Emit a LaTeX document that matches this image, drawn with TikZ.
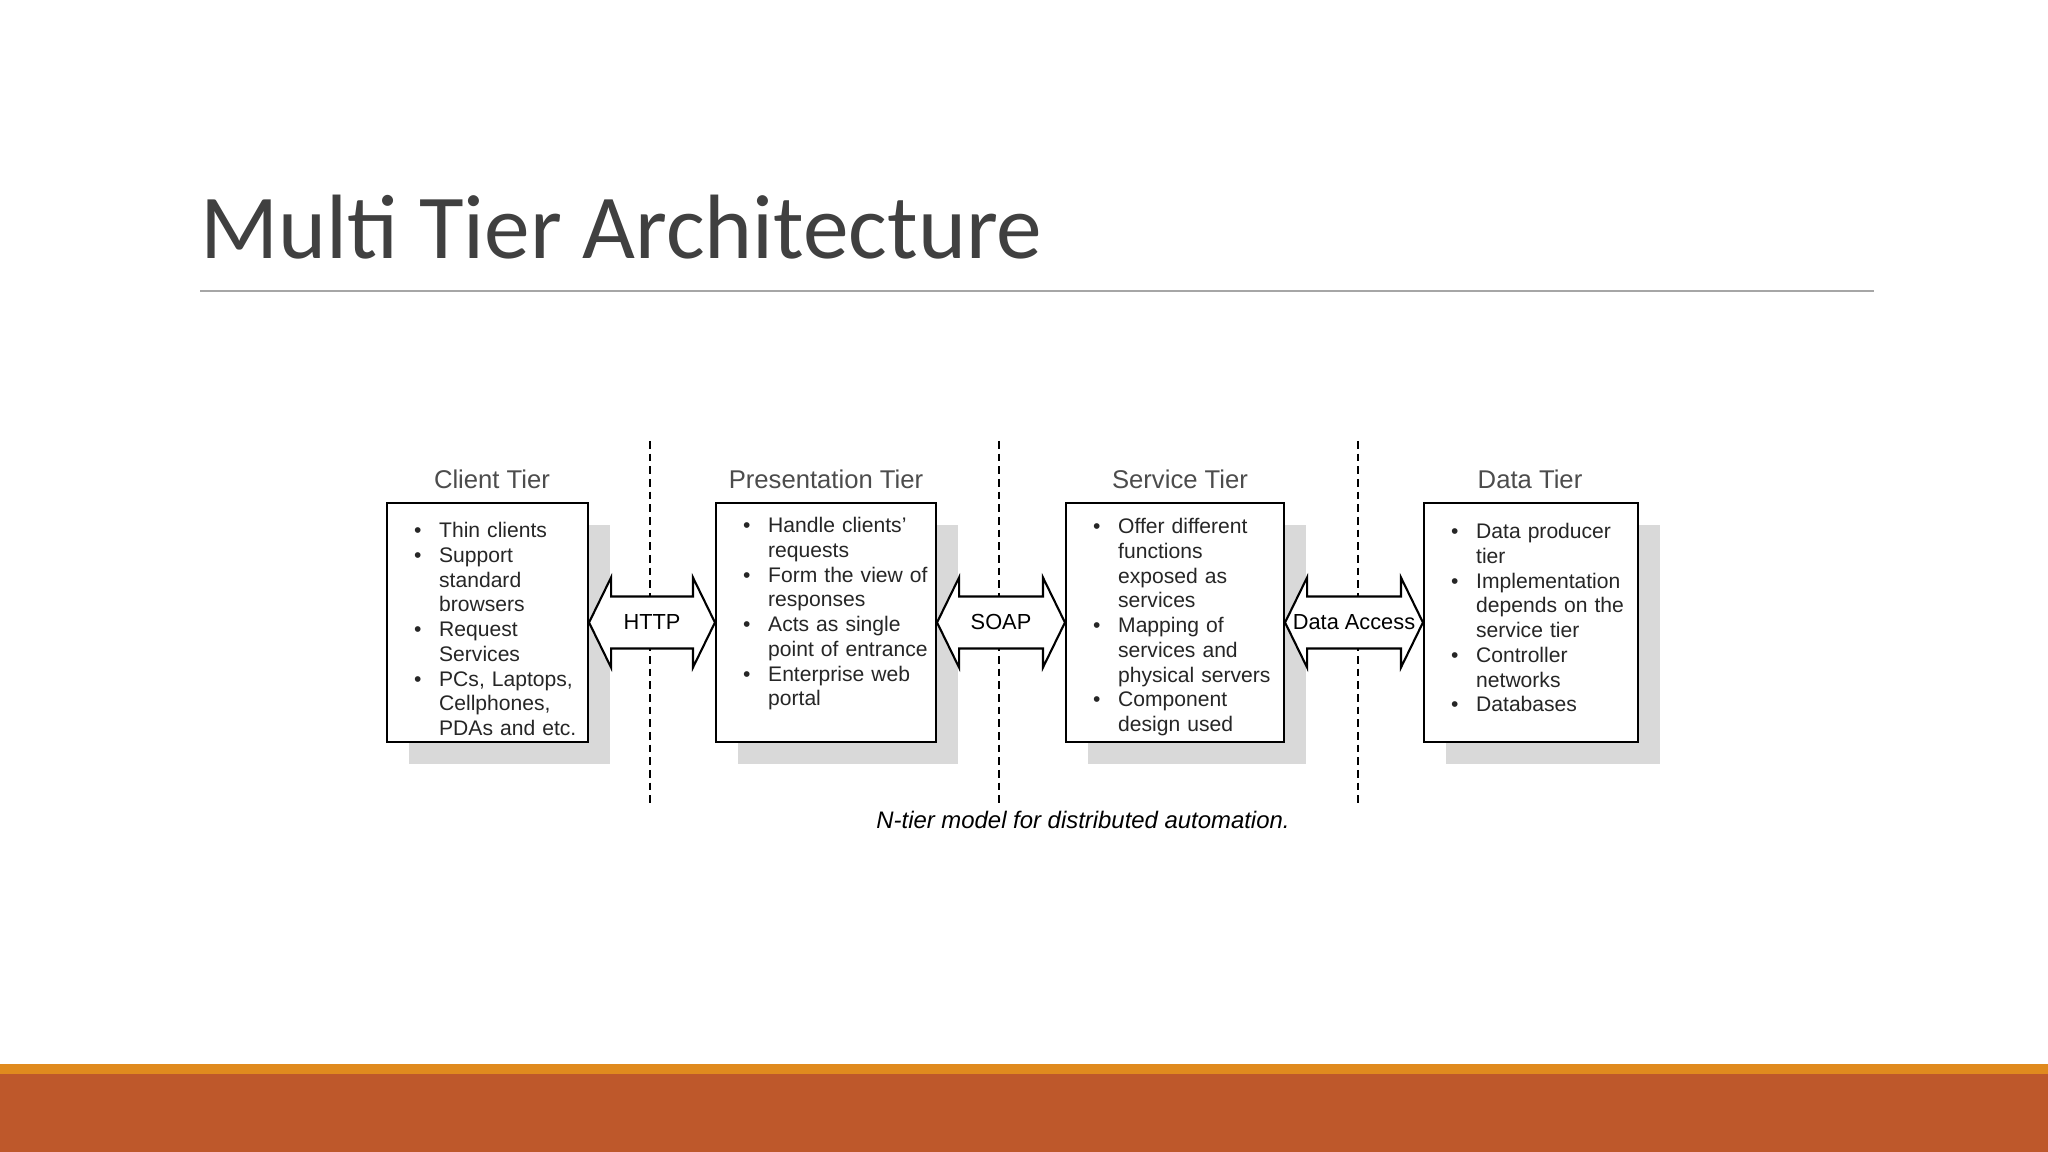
\documentclass[tikz,border=0pt]{standalone}
\usepackage{fontspec}
\setmainfont{Liberation Sans}
\newfontfamily\titlefont{Carlito}
\usetikzlibrary{calc}
\definecolor{barA}{HTML}{E08A1E}
\definecolor{barB}{HTML}{BE582B}
\definecolor{titlegray}{HTML}{404040}
\newcommand\bl[1]{\begin{list}{\textbullet}{\leftmargin=11.8pt\labelwidth=6pt\labelsep=5pt\itemsep=0pt\parsep=0pt\topsep=0pt\partopsep=0pt}#1\end{list}}
\newcommand\dbarrow[3]{%
\filldraw[fill=white,draw=black,line width=0.6pt] let \p1=(#1.east), \p2=(#2.west) in
 (\p1) -- ++(2.2mm,4.5mm) -- ++(0,-1.9mm) -- ({\x2-2.2mm},{\y1+2.6mm}) -- ++(0,1.9mm) -- (\p2)
 -- ++(-2.2mm,-4.5mm) -- ++(0,1.9mm) -- ({\x1+2.2mm},{\y1-2.6mm}) -- ++(0,-1.9mm) -- cycle;
\node[lbl] at ($(#1.east)!0.5!(#2.west)$) {#3};}
\begin{document}
\begin{tikzpicture}[x=0.1mm,y=-0.1mm,
 box/.style={draw=black,line width=0.6pt,fill=white,inner sep=0pt,minimum height=23.9mm},
 shadowbox/.style={fill=black!15,draw=none,inner sep=0pt,minimum height=23.9mm},
 head/.style={font=\fontsize{7.3}{8}\selectfont,text=black!70},
 body/.style={anchor=north west,inner sep=0pt,font=\fontsize{6}{7.05}\selectfont,text=black!85},
 lbl/.style={font=\fontsize{6.2}{7}\selectfont,inner sep=1pt},
 dash/.style={}]
\useasboundingbox (0,0) rectangle (2048,1152);
\fill[white] (0,0) rectangle (2048,1152);
% title
\node[anchor=base west,inner sep=0pt,font=\titlefont\fontsize{26}{30}\selectfont,text=titlegray] (title) at (200,259) {Multi Tier Architecture};
\draw[black!35,line width=0.4pt] (200,291) -- (1874,291);
% bars
\fill[barA] (0,1064) rectangle (2048,1075);
\fill[barB] (0,1074) rectangle (2048,1152);
% dashed lines
\foreach \x/\n in {650/d1,999/d2,1358/d3}{
 \coordinate (\n a) at (\x,441); \coordinate (\n b) at (\x,803);
 \draw[line width=0.5pt,dash pattern=on 2.2pt off 1.4pt] (\n a) -- (\n b);}
% shadows
\node[shadowbox,minimum width=20.1mm] at (509.5,644.5) {};
\node[shadowbox,minimum width=22.0mm] at (848,644.5) {};
\node[shadowbox,minimum width=21.8mm] at (1197,644.5) {};
\node[shadowbox,minimum width=21.4mm] at (1553,644.5) {};
% boxes
\node[box,minimum width=20.1mm] (cl) at (487.5,622.5) {};
\node[box,minimum width=22.0mm] (pr) at (826,622.5) {};
\node[box,minimum width=21.8mm] (sv) at (1175,622.5) {};
\node[box,minimum width=21.4mm] (dt) at (1531,622.5) {};
% headings
\node[head] (hcl) at (492,479) {Client Tier};
\node[head] (hpr) at (826,479) {Presentation Tier};
\node[head] (hsv) at (1180,479) {Service Tier};
\node[head] (hdt) at (1530,479) {Data Tier};
% texts
\node[body,text width=18.8mm] (tcl) at (397,512) {\bl{\item Thin clients \item Support standard browsers \item Request Services \item PCs, Laptops, Cellphones, PDAs and etc.}};
\node[body,text width=20.6mm] (tpr) at (726,507) {\bl{\item Handle clients' requests \item Form the view of responses \item Acts as single point of entrance \item Enterprise web portal}};
\node[body,text width=20.6mm] (tsv) at (1076,508) {\bl{\item Offer different functions exposed as services \item Mapping of services and physical servers \item Component design used}};
\node[body,text width=20.3mm] (tdt) at (1434,513) {\bl{\item Data producer tier \item Implementation depends on the service tier \item Controller networks \item Databases}};
% arrows
\dbarrow{cl}{pr}{HTTP}
\dbarrow{pr}{sv}{SOAP}
\dbarrow{sv}{dt}{Data Access}
% caption
\node[font=\itshape\fontsize{6.8}{8}\selectfont] (cap) at (1083,820) {N-tier model for distributed automation.};
\end{tikzpicture}
\end{document}
